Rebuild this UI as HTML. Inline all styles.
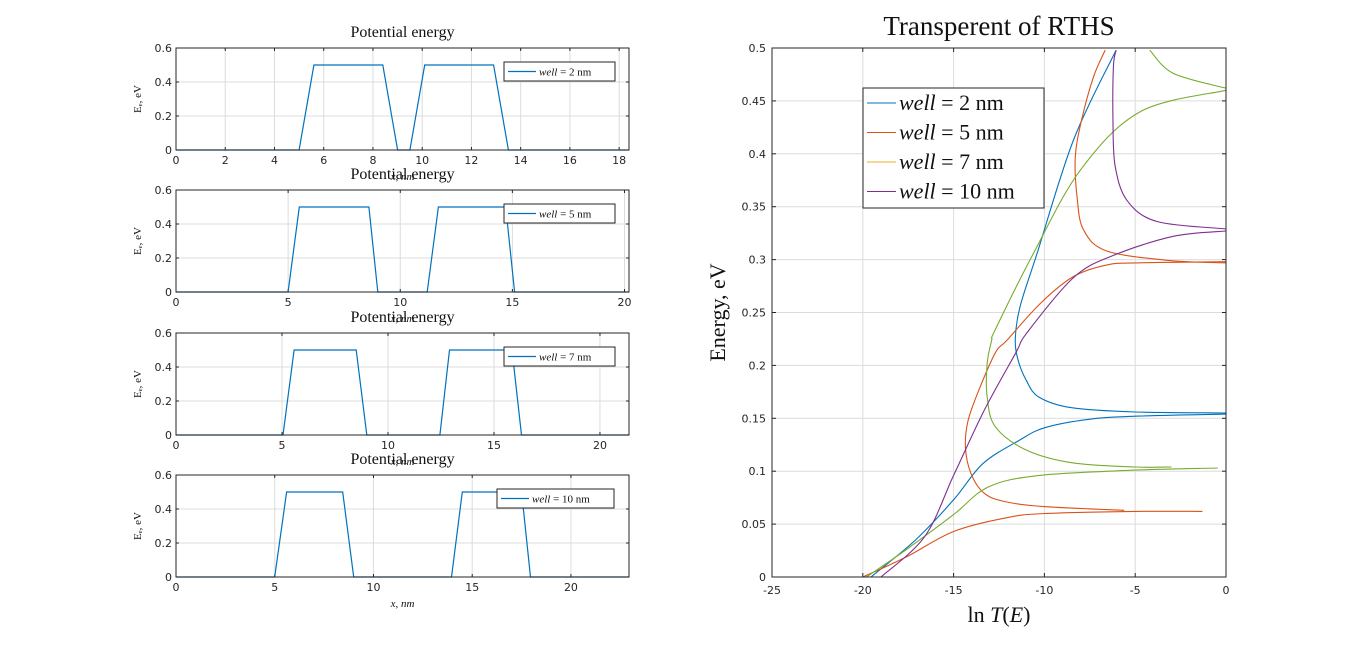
<!DOCTYPE html>
<html><head><meta charset="utf-8"><style>
body{margin:0;background:#fff;width:1356px;height:649px;overflow:hidden}
svg{display:block}
.tk{font-family:"DejaVu Sans","Liberation Sans",sans-serif;font-size:11px;fill:#262626}
.ser{font-family:"Liberation Serif",serif;fill:#111}
</style></head><body>
<svg id="fig" width="1356" height="649" xmlns="http://www.w3.org/2000/svg"></svg>
<script>
// ---- left subplot data (potential profiles) ----
const wells=[2,5,7,10];
const xMaxes=[18.4,20.2,21.37,22.94];
const xTickSteps=[2,5,5,5];
const potX2=[0,5,5.6,8.4,9,9.5,10.1,12.9,13.5,18.4];
const potE2=[0,0,0.5,0.5,0,0,0.5,0.5,0,0];
const potX5=[0,5,5.5,8.6,9,11.2,11.7,14.7,15.1,20.2];
const potE5=[0,0,0.5,0.5,0,0,0.5,0.5,0,0];
const potX7=[0,5.05,5.57,8.5,9.0,12.45,12.9,15.85,16.3,21.37];
const potE7=[0,0,0.5,0.5,0,0,0.5,0.5,0,0];
const potX10=[0,5.0,5.6,8.44,9.0,13.95,14.5,17.5,17.95,22.94];
const potE10=[0,0,0.5,0.5,0,0,0.5,0.5,0,0];
const potXs=[potX2,potX5,potX7,potX10], potEs=[potE2,potE5,potE7,potE10];
const yTicksL=[0,0.2,0.4,0.6];
// ---- right chart data (ln T vs E), branches ----
const b2lowT=[-19.55,-17.1,-15,-13.4,-11.4,-10,-7.6,-5,0];
const b2lowE=[0,0.035,0.073,0.107,0.129,0.141,0.149,0.152,0.154];
const b2upT=[0,-5,-8.5,-10.3,-11,-11.45,-11.6,-11.35,-10.4,-8.4,-6.05];
const b2upE=[0.155,0.156,0.160,0.170,0.186,0.205,0.225,0.255,0.306,0.413,0.498];
const b5lowT=[-20,-17.6,-15,-12.1,-10,-5,-1.3];
const b5lowE=[0,0.019,0.043,0.056,0.060,0.062,0.062];
const b5midT=[-5.6,-10,-12.1,-13.3,-14.05,-14.35,-14.2,-13.6,-12.7,-12.05,-10.2,-8.4,-6.55,-4.7,0];
const b5midE=[0.063,0.0665,0.071,0.079,0.098,0.123,0.148,0.177,0.212,0.224,0.259,0.284,0.295,0.297,0.298];
const b5upT=[0,-3,-6.55,-7.84,-8.2,-8.3,-7.95,-7.29,-6.65];
const b5upE=[0.297,0.299,0.308,0.328,0.359,0.397,0.432,0.473,0.498];
const b7lowT=[-19.8,-17.6,-15,-13.1,-10.3,-5,-0.45];
const b7lowE=[0,0.026,0.059,0.085,0.096,0.101,0.103];
const b7midT=[-3,-5,-8.5,-11,-12.7,-13.15,-13.15,-12.9,-12.7,-10.6,-8.0,-4.7,0];
const b7midE=[0.104,0.104,0.108,0.120,0.142,0.170,0.202,0.224,0.234,0.306,0.385,0.440,0.460];
const b7upT=[-4.2,-2.9,0];
const b7upE=[0.498,0.476,0.462];
const b10lowT=[-19.0,-16.6,-15,-13.3,-11.6,-10.95,-8.4,-6.2,-2.9,0];
const b10lowE=[0,0.038,0.096,0.158,0.211,0.231,0.283,0.304,0.322,0.327];
const b10upT=[0,-3.8,-5.45,-6.1,-6.22,-6.2,-6.05];
const b10upE=[0.329,0.336,0.356,0.388,0.429,0.482,0.498];
const xTicksR=[-25,-20,-15,-10,-5,0];
const yTicksR=[0,0.05,0.1,0.15,0.2,0.25,0.3,0.35,0.4,0.45,0.5];
const colors=['#0072BD','#D95319','#EDB120','#7E2F8E'];
const lineColors=['#0072BD','#D95319','#77AC30','#7E2F8E'];

const NS='http://www.w3.org/2000/svg';
const fig=document.getElementById('fig');
function mk(tag,attrs,parent){const e=document.createElementNS(NS,tag);for(const k in attrs)e.setAttribute(k,attrs[k]);(parent||fig).appendChild(e);return e;}
function txt(s,x,y,cls,anchor,parent){const t=mk('text',{x:x,y:y,class:cls,'text-anchor':anchor||'middle'},parent);t.textContent=s;return t;}
function fmt(v){return String(+v.toFixed(2));}
function smooth(P){
  let d='M'+P[0][0].toFixed(1)+','+P[0][1].toFixed(1);
  for(let i=0;i<P.length-1;i++){
    const p0=P[Math.max(0,i-1)],p1=P[i],p2=P[i+1],p3=P[Math.min(P.length-1,i+2)];
    const c1=[p1[0]+(p2[0]-p0[0])/6,p1[1]+(p2[1]-p0[1])/6];
    const c2=[p2[0]-(p3[0]-p1[0])/6,p2[1]-(p3[1]-p1[1])/6];
    d+=' C'+c1.map(v=>v.toFixed(1)).join(',')+' '+c2.map(v=>v.toFixed(1)).join(',')+' '+p2[0].toFixed(1)+','+p2[1].toFixed(1);
  }
  return d;
}

// left subplots
const tops=[48,190,333,475];
const L=176,R=629,H=102;
wells.forEach((w,i)=>{
  const g=mk('g',{});
  
  
  const T=tops[i],B=T+H,xm=xMaxes[i];
  const sx=v=>L+v/xm*(R-L), sy=v=>B-v/0.6*H;
  mk('rect',{x:L,y:T,width:R-L,height:H,fill:'#fff'},g);
  for(let v=0;v<=xm+1e-9;v+=xTickSteps[i]){
    const x=sx(v);
    if(v>0) mk('line',{x1:x,y1:T,x2:x,y2:B,stroke:'#dcdcdc','stroke-width':1},g);
    mk('line',{x1:x,y1:B,x2:x,y2:B-3,stroke:'#262626'},g);
    mk('line',{x1:x,y1:T,x2:x,y2:T+3,stroke:'#262626'},g);
    const t=txt(String(v),x,B+14,'tk','middle',g);
    
    
  }
  yTicksL.forEach(v=>{
    const y=sy(v);
    if(v>0&&v<0.6) mk('line',{x1:L,y1:y,x2:R,y2:y,stroke:'#dcdcdc'},g);
    mk('line',{x1:L,y1:y,x2:L+3,y2:y,stroke:'#262626'},g);
    mk('line',{x1:R,y1:y,x2:R-3,y2:y,stroke:'#262626'},g);
    const t=txt(fmt(v),L-4,y+4,'tk','end',g);
    
    
  });
  const pts=potXs[i].map((x,k)=>sx(x).toFixed(1)+','+sy(potEs[i][k]).toFixed(1)).join(' ');
  const pl=mk('polyline',{points:pts,fill:'none',stroke:colors[0],'stroke-width':1.2},g);
  
  
  mk('rect',{x:L,y:T,width:R-L,height:H,fill:'none',stroke:'#262626','stroke-width':1},g);
  const tt=txt('Potential energy',(L+R)/2,T-11,'ser','middle',g);
  tt.setAttribute('font-size','16');
  
  
  const xl=txt('x, nm',(L+R)/2,B+30,'ser','middle',g);
  xl.setAttribute('font-size','11');xl.setAttribute('font-style','italic');xl.setAttribute('fill','#555');
  
  
  const yl=txt('Eₑ, eV',0,0,'ser','middle',g);
  yl.setAttribute('font-size','11');
  yl.setAttribute('transform','translate(141,'+(T+H/2)+') rotate(-90)');
  
  
  const lx=(w==10)?497:504, lw=(w==10)?117:111;
  const lg=mk('g',{},g);
  
  
  mk('rect',{x:lx,y:T+14,width:lw,height:19,fill:'#fff',stroke:'#262626'},lg);
  mk('line',{x1:lx+4,y1:T+23.5,x2:lx+32,y2:T+23.5,stroke:colors[0],'stroke-width':1.2},lg);
  const lt=txt('',lx+35,T+27.5,'ser','start',lg);
  lt.setAttribute('font-size','11');
  lt.innerHTML='<tspan font-style="italic">well</tspan> = '+w+' nm';
});

// right chart
const RL=772,RR=1226,RT=48,RB=577;
const rx=v=>RL+(v+25)/25*(RR-RL), ry=v=>RB-v/0.5*(RB-RT);
const rg=mk('g',{});


xTicksR.forEach(v=>{
  const x=rx(v);
  if(v>-25&&v<0) mk('line',{x1:x,y1:RT,x2:x,y2:RB,stroke:'#dcdcdc'},rg);
  mk('line',{x1:x,y1:RB,x2:x,y2:RB-4,stroke:'#262626'},rg);
  mk('line',{x1:x,y1:RT,x2:x,y2:RT+4,stroke:'#262626'},rg);
  const t=txt(String(v),x,RB+17,'tk','middle',rg);
  
  
});
yTicksR.forEach(v=>{
  const y=ry(v);
  if(v>0&&v<0.5) mk('line',{x1:RL,y1:y,x2:RR,y2:y,stroke:'#dcdcdc'},rg);
  mk('line',{x1:RL,y1:y,x2:RL+4,y2:y,stroke:'#262626'},rg);
  mk('line',{x1:RR,y1:y,x2:RR-4,y2:y,stroke:'#262626'},rg);
  const t=txt(fmt(v),RL-6,y+4,'tk','end',rg);
  
  
});
const branches=[[b2lowT,b2lowE,0],[b2upT,b2upE,0],[b5lowT,b5lowE,1],[b5midT,b5midE,1],[b5upT,b5upE,1],
 [b7lowT,b7lowE,2],[b7midT,b7midE,2],[b7upT,b7upE,2],[b10lowT,b10lowE,3],[b10upT,b10upE,3]];
branches.forEach(b=>{
  const P=b[0].map((t,k)=>[rx(t),ry(b[1][k])]);
  const p=mk('path',{d:smooth(P),fill:'none',stroke:lineColors[b[2]],'stroke-width':1.1,'stroke-linejoin':'round'},rg);
  
  
});
mk('rect',{x:RL,y:RT,width:RR-RL,height:RB-RT,fill:'none',stroke:'#262626'},rg);
const rt=txt('Transperent of RTHS',(RL+RR)/2,35,'ser','middle',rg);
rt.setAttribute('font-size','27');


const rxl=txt('',(RL+RR)/2,622,'ser','middle',rg);
rxl.setAttribute('font-size','22');
rxl.innerHTML='ln <tspan font-style="italic">T</tspan>(<tspan font-style="italic">E</tspan>)';


const ryl=txt('Energy, eV',0,0,'ser','middle',rg);
ryl.setAttribute('font-size','22');
ryl.setAttribute('transform','translate(725,'+((RT+RB)/2)+') rotate(-90)');


const lg=mk('g',{},rg);


mk('rect',{x:863,y:88,width:181,height:120,fill:'#fff',stroke:'#262626'},lg);
wells.forEach((w,i)=>{
  const y=103+i*29.5;
  const l=mk('line',{x1:867,y1:y,x2:896,y2:y,stroke:colors[i],'stroke-width':1.1},lg);
  
  
  const t=txt('',899,y+7,'ser','start',lg);
  t.setAttribute('font-size','22');
  t.innerHTML='<tspan font-style="italic">well</tspan> = '+w+' nm';
  
  
});
</script>
</body></html>
